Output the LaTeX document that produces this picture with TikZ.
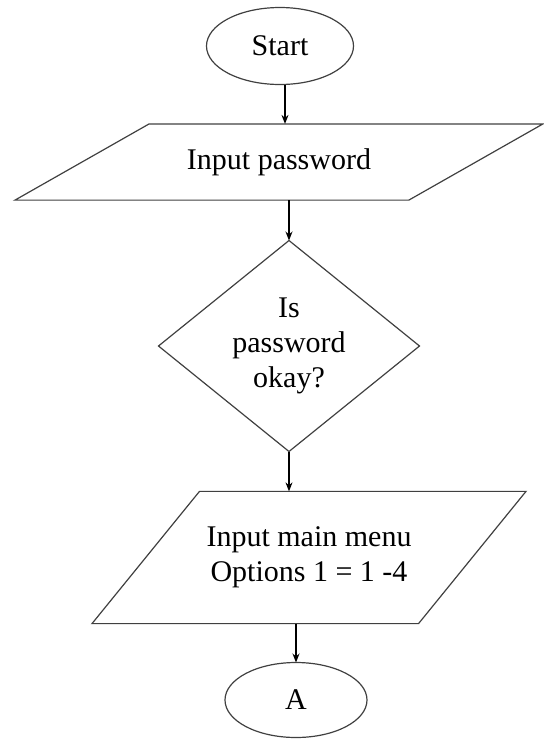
\documentclass[tikz,border=0pt]{standalone}
\usepackage{fontspec}
\setmainfont{Liberation Serif}
\usetikzlibrary{shapes.geometric,arrows.meta}
\begin{document}
\begin{tikzpicture}[x=1pt,y=-1pt,line width=1.2pt,draw=black!75,
	every node/.style={font=\fontsize{30}{35}\selectfont, align=center, inner sep=0pt, outer sep=0pt},
	term/.style={ellipse, draw},
	io/.style={trapezium, trapezium stretches body, draw},
	decide/.style={diamond, draw},
	arr/.style={draw=black, -{Stealth[length=9pt,width=7pt]}}]
	\useasboundingbox (0,0) rectangle (544,740);
	\node (start) at (280, 46)	[term, minimum width=147, minimum height=77]	{Start};
	\node (inpw) at (279, 162)	[io, trapezium left angle=29.6, trapezium right angle=150.4, inner ysep=24.5, minimum width=528]	{Input password};
	\node (check) at (289, 346)	[decide, shape aspect=1.237, minimum width=261, minimum height=211]	{Is\\password\\okay?};
	\node (menu) at (309, 557.5)	[io, trapezium left angle=50.9, trapezium right angle=129.1, inner ysep=35.5, minimum width=434]	{Input main menu\\Options 1 = 1 -4};
	\node (A) at (296, 700)	[term, minimum width=142, minimum height=75]	{A};

	\draw[arr] ([xshift=5pt]start.south) -- ([xshift=5pt]start.south |- inpw.north);
	\draw[arr] (check.north |- inpw.south) -- (check);
	\draw[arr] (check) -- (check |- menu.north);
	\draw[arr] (A |- menu.south) -- (A);
\end{tikzpicture}
\end{document}
